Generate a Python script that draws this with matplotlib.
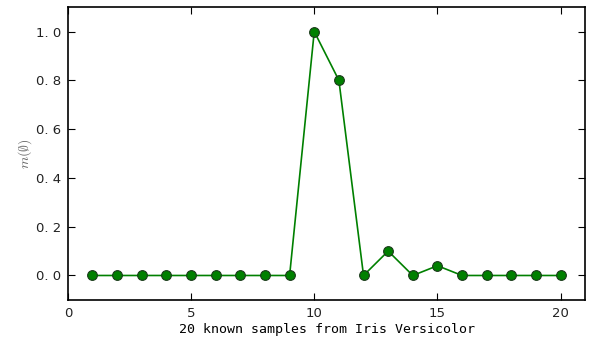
import matplotlib
matplotlib.use("Agg")
import matplotlib.pyplot as plt

samples = list(range(1, 21))
m_empty = [0, 0, 0, 0, 0, 0, 0, 0, 0, 1.0, 0.8, 0, 0.1, 0, 0.04, 0, 0, 0, 0, 0]
xticks = [0, 5, 10, 15, 20]
yticks = [0.0, 0.2, 0.4, 0.6, 0.8, 1.0]

plt.rcParams['font.family'] = ['DejaVu Sans']
plt.rcParams['mathtext.fontset'] = 'cm'
fig = plt.figure(figsize=(5.9, 3.4), dpi=100)
ax = fig.add_axes([0.115, 0.118, 0.877, 0.861])
ax.plot(samples, m_empty, '-o', color='green', lw=1.2, markersize=7,
        markerfacecolor='green', markeredgecolor='#1a3a1a', markeredgewidth=0.8)
ax.set_xlim(0, 21)
ax.set_ylim(-0.1, 1.1)
ax.set_xticks(xticks)
ax.set_yticks(yticks)
ax.set_yticklabels(['0. 0', '0. 2', '0. 4', '0. 6', '0. 8', '1. 0'])
ax.tick_params(direction='in', length=5, labelsize=9.5, top=True, right=True,
               labelcolor='#222222')
ax.tick_params(axis='x', pad=5)
ax.tick_params(axis='y', pad=5)
ax.set_xlabel('20 known samples from Iris Versicolor', fontsize=9.5,
              family='DejaVu Sans Mono', labelpad=2)
ax.set_ylabel(r'$m(\emptyset)$', fontsize=10, color='#666666', labelpad=1)
for s in ax.spines.values():
    s.set_linewidth(1.2)
fig.savefig('out.png', dpi=100)
